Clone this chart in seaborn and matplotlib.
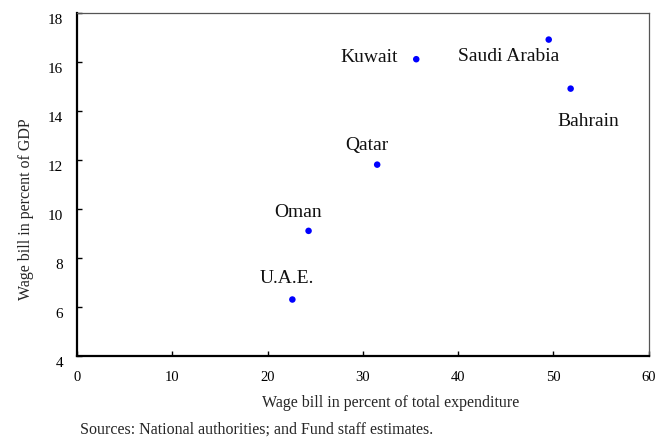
import matplotlib
matplotlib.use("Agg")
import matplotlib.pyplot as plt
import seaborn as sns
import pandas as pd

countries = ["Kuwait", "Saudi Arabia", "Bahrain", "Qatar", "Oman", "U.A.E."]
wage_exp = [35.6, 49.5, 51.8, 31.5, 24.3, 22.6]
wage_gdp = [16.1, 16.9, 14.9, 11.8, 9.1, 6.3]
# label offsets in points (dx, dy) relative to each point
label_dx = [-34, -29, 13, -7.7, -7.7, -4.1]
label_dy = [2.1, -11.5, -23.1, 14.8, 14.1, 16.0]

x_ticks = [0, 10, 20, 30, 40, 50, 60]
y_ticks = [4, 6, 8, 10, 12, 14, 16, 18]

df = pd.DataFrame({"country": countries, "exp": wage_exp, "gdp": wage_gdp})

sns.set_theme(style="white")
plt.rcParams["font.family"] = ["Liberation Serif", "DejaVu Serif"]

fig = plt.figure(figsize=(6.58, 4.39), dpi=100)
ax = fig.add_axes([0.117, 0.187, 0.869, 0.782])

sns.scatterplot(data=df, x="exp", y="gdp", ax=ax, color="#0000ff", s=22,
                edgecolor="none", legend=False, zorder=3)

for c, x, y, dx, dy in zip(countries, wage_exp, wage_gdp, label_dx, label_dy):
    ax.annotate(c, (x, y), xytext=(dx, dy), textcoords="offset points",
                ha="center", va="center", fontsize=14, color="#111111")

ax.set_xlim(0, 60)
ax.set_ylim(4, 18)
ax.set_xticks(x_ticks)
ax.set_yticks(y_ticks)
ax.tick_params(direction="in", length=3.5, width=1, colors="black",
               top=False, right=False, bottom=True, left=True)
ax.tick_params(axis="x", pad=10, labelsize=10.5)
ax.tick_params(axis="y", pad=10, labelsize=11)
for lbl in ax.get_yticklabels():
    lbl.set_verticalalignment("top")

for side in ["left", "bottom"]:
    ax.spines[side].set_color("black")
    ax.spines[side].set_linewidth(1.6)
for side in ["top", "right"]:
    ax.spines[side].set_color("#555555")
    ax.spines[side].set_linewidth(0.9)

ax.set_xlabel("Wage bill in percent of total expenditure", fontsize=11.5)
ax.set_ylabel("Wage bill in percent of GDP", fontsize=11.5)
ax.xaxis.set_label_coords(0.549, -0.112)
ax.yaxis.set_label_coords(-0.075, 0.431)

fig.text(0.122, 0.0205, "Sources: National authorities; and Fund staff estimates.",
         fontsize=11.5, ha="left", va="center")

fig.savefig("out.png", dpi=100)
